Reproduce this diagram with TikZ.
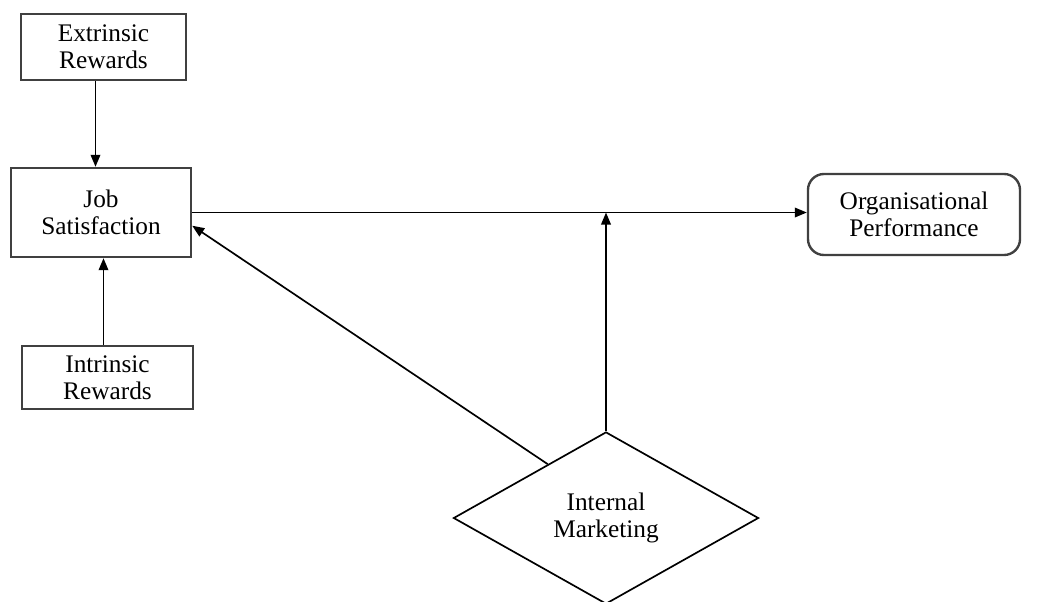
\documentclass[tikz,border=0pt]{standalone}
\usepackage{fontspec}
\setmainfont{Liberation Serif}
\usepackage{tikz}
\usetikzlibrary{arrows.meta}
\usetikzlibrary{shapes.geometric}
\usetikzlibrary{calc}

\begin{document}
\begin{tikzpicture}[x=0.025cm, y=-0.025cm]
	\useasboundingbox (0,0) rectangle (1037,601);
	\begin{scope}[every node/.style = {rectangle, draw=black!75, line width=1.7pt, align=center, font=\fontsize{18}{19}\selectfont}]
		\node[minimum width=4.125cm, minimum height=1.65cm] (ER) at (103.5,47) {Extrinsic\\Rewards};
		\node[minimum width=4.5cm, minimum height=2.225cm] (JS) at (101,212.5) {Job\\Satisfaction};
		\node[minimum width=4.275cm, minimum height=1.575cm] (IR) at (107.5,377.5) {Intrinsic\\Rewards};
		\node[rounded corners=0.4cm, minimum width=5.3cm, minimum height=2.025cm] (OP) at (914,214.5) {Organisational\\Performance};
	\end{scope}
	\begin{scope}[every node/.style = {diamond, draw=black, line width=1.2pt, aspect=1.77, inner sep=0pt, align=center, font=\fontsize{18}{19}\selectfont}]
		\node[minimum width=7.625cm, minimum height=4.3cm] (IM) at (606,518) {Internal\\Marketing};
	\end{scope}
	\begin{scope}[>={Triangle[length=0.3cm, width=0.24cm]},
			every edge/.style={draw=black, line width=1.2pt}]
		\path [->] ([xshift=-0.2cm]ER.south) edge ([xshift=-0.2cm]ER.south |- JS.north);
		\path [->] ([xshift=-0.1cm]IR.north) edge ([xshift=-0.1cm]IR.north |- JS.south);
		\path [->] (JS.east) edge (JS.east -| OP.west);
		\path [->] (IM.north) edge (IM.north |- JS.east);
		\path [->] ($(IM.west)!0.62!(IM.north)$) edge ([yshift=-0.33cm]JS.east);
	\end{scope}
\end{tikzpicture}
\end{document}
